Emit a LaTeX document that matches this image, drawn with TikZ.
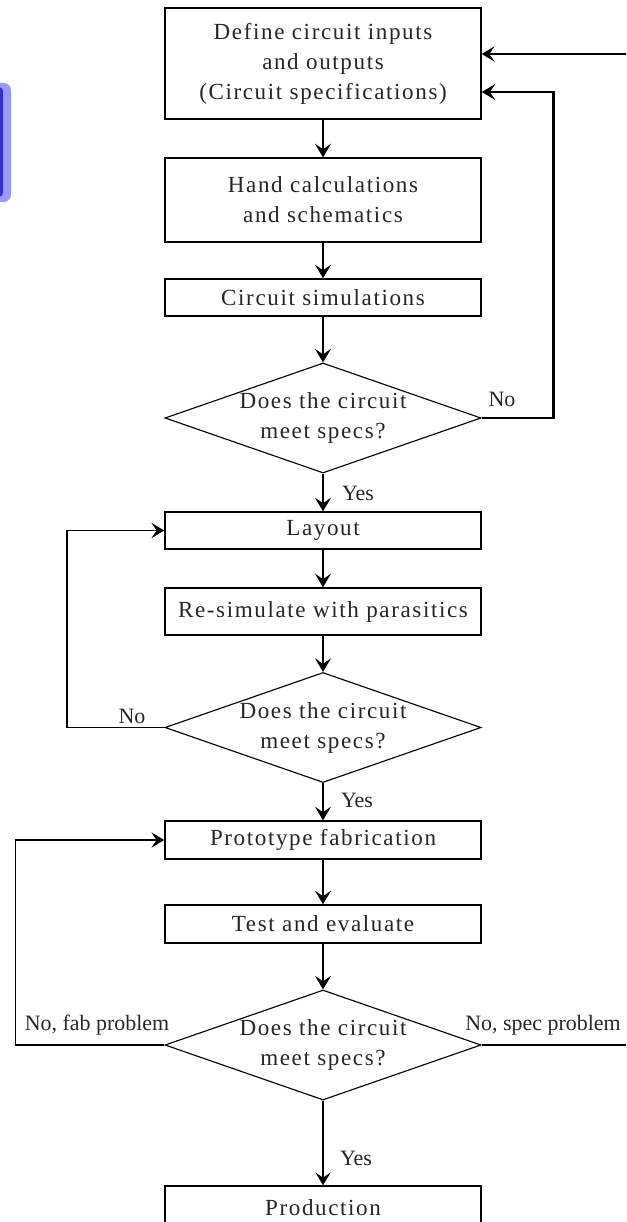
\documentclass[tikz,border=0pt]{standalone}
\usepackage{fontspec}
\setmainfont{Liberation Serif}
\newfontfamily\boxfont[LetterSpace=7]{Liberation Serif}
\usetikzlibrary{positioning,arrows.meta,calc,shapes.geometric}
\definecolor{barlight}{HTML}{9999FF}
\definecolor{bardark}{HTML}{3333CC}

\begin{document}
\begin{tikzpicture}[
                x=0.025cm, y=-0.025cm,
                block/.style={
                    draw,
                    line width=1pt,
                    minimum width=7.9cm,
                    inner sep=0pt,
                    align=center,
                    text=black!85,
                    font=\boxfont\fontsize{16.4}{21.3}\selectfont
                },
                decision/.style={block, diamond, line width=0.8pt, minimum height=2.75cm, aspect=2.87},
                note/.style={inner sep=0pt, text=black!85, font=\fontsize{15.6}{18}\selectfont},
                arrow/.style={-{Stealth[length=0.34cm, width=0.4cm, inset=0.14cm]}, line width=2.1pt},
                thinarrow/.style={-{Stealth[length=0.32cm, width=0.38cm, inset=0.13cm]}, line width=0.9pt}
            ]
                \clip (0,0) rectangle (626,1222);
                \fill[barlight, rounded corners=0.18cm] (-20,83) rectangle (11,202);
                \fill[bardark, rounded corners=0.1cm] (-20,87) rectangle (3,197);

                \node[block, minimum height=2.775cm] (spec) at (323,63.5) {Define circuit inputs \\ and outputs \\ (Circuit specifications)};
                \node[block, minimum height=2.1cm] (hand) at (323,200) {Hand calculations \\ and schematics};
                \node[block, minimum height=0.925cm] (sim) at (323,297.5) {Circuit simulations};
                \node[decision] (dec1) at (323,418) {Does the circuit \\ meet specs?};
                \node[block, minimum height=0.925cm] (layout) at (323,530.5) {Layout};
                \node[block, minimum height=1.175cm] (resim) at (323,611.5) {Re-simulate with parasitics};
                \node[decision] (dec2) at (323,727.5) {Does the circuit \\ meet specs?};
                \node[block, minimum height=0.95cm] (proto) at (323,840) {Prototype fabrication};
                \node[block, minimum height=0.95cm] (test) at (323,924) {Test and evaluate};
                \node[decision] (dec3) at (323,1045) {Does the circuit \\ meet specs?};
                \node[block, minimum height=1.1cm] (prod) at (323,1208) {Production};

                \node[note] (no1) at (502,399) {No};
                \node[note] (yes1) at (358,493) {Yes};
                \node[note] (no2) at (132,716) {No};
                \node[note] (yes2) at (357,800) {Yes};
                \node[note] (fab) at (97,1025) {No, fab problem};
                \node[note] (specno) at (543,1025) {No, spec problem};
                \node[note] (yes3) at (356,1158) {Yes};

                \coordinate (rimtop) at (640,54);
                \coordinate (rimlow) at (640,1045);

                \draw[arrow] (spec.south) -- (hand.north);
                \draw[arrow] (hand.south) -- (sim.north);
                \draw[arrow] (sim.south) -- (dec1.north);
                \draw[arrow] (dec1.south) -- (layout.north);
                \draw[arrow] (layout.south) -- (resim.north);
                \draw[arrow] (resim.south) -- (dec2.north);
                \draw[arrow] (dec2.south) -- (proto.north);
                \draw[arrow] (proto.south) -- (test.north);
                \draw[arrow] (test.south) -- (dec3.north);
                \draw[thinarrow, line width=1.1pt] (dec3.south) -- (prod.north);

                \draw[arrow] (dec1.east) -- ++(72,0) |- ($(spec.east)+(0,28.5)$);
                \draw[thinarrow, line width=1.3pt] (dec2.west) -- ++(-97,0) |- (layout.west);
                \draw[thinarrow] (dec3.west) -- ++(-149,0) |- (proto.west);
                \draw[thinarrow] (rimtop) -- (rimtop -| spec.east);
                \draw[line width=0.9pt] (dec3.east) -- (rimlow);
            \end{tikzpicture}
\end{document}
